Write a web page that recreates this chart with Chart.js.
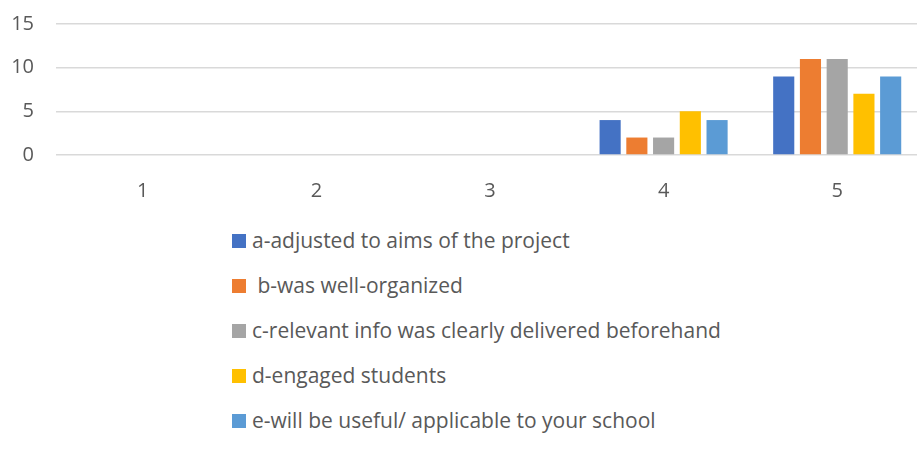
<!DOCTYPE html>
<html><head><meta charset="utf-8">
<script src="https://cdn.jsdelivr.net/npm/chart.js@4/dist/chart.umd.min.js"></script>
<style>
html,body{margin:0;padding:0;background:#fff;width:917px;height:450px;overflow:hidden;position:relative;}
#wrap{position:absolute;left:0;top:-10px;width:924px;height:215px;}
#legend{position:absolute;left:232px;top:225px;font-family:"Open Sans",sans-serif;font-size:21px;color:#595959;}
.item{height:45px;display:flex;align-items:flex-start;}
.sw{width:14px;height:14px;margin-top:9px;margin-right:6px;flex:none;}
.lab{line-height:30px;white-space:pre;}
</style></head>
<body>
<div id="wrap"><canvas id="c"></canvas></div>
<div id="legend"></div>
<script>
const categories = ["1","2","3","4","5"];
const seriesNames = ["a-adjusted to aims of the project"," b-was well-organized","c-relevant info was clearly delivered beforehand","d-engaged students","e-will be useful/ applicable to your school"];
const seriesA = [0,0,0,4,9];
const seriesB = [0,0,0,2,11];
const seriesC = [0,0,0,2,11];
const seriesD = [0,0,0,5,7];
const seriesE = [0,0,0,4,9];
const yTicks = [0,5,10,15];
const colors = ["#4472C4","#ED7D31","#A5A5A5","#FFC000","#5B9BD5"];
const allSeries = [seriesA,seriesB,seriesC,seriesD,seriesE];

const datasets = allSeries.map((d,i)=>({label:seriesNames[i],data:d,backgroundColor:colors[i],borderWidth:0,barPercentage:0.79,categoryPercentage:0.77}));

new Chart(document.getElementById('c'),{
  type:'bar',
  data:{labels:categories,datasets},
  options:{
    responsive:true,maintainAspectRatio:false,animation:false,
    layout:{padding:{top:3,right:0,bottom:0,left:0}},
    plugins:{legend:{display:false},tooltip:{enabled:false}},
    scales:{
      x:{grid:{display:false},border:{display:false},
         ticks:{color:'#595959',font:{family:"'Open Sans'",size:20},padding:16},
         afterFit:s=>{s.height=50;}},
      y:{min:0,max:15,afterBuildTicks:s=>{s.ticks=yTicks.map(v=>({value:v}));},
         grid:{color:'#d9d9d9',lineWidth:1.5,drawTicks:false},border:{display:false},
         ticks:{color:'#595959',font:{family:"'Open Sans'",size:20},padding:22},
         afterFit:s=>{s.width=56;}}
    }
  }
});
const lg=document.getElementById('legend');
seriesNames.forEach((n,i)=>{
  const it=document.createElement('div');it.className='item';
  const sw=document.createElement('div');sw.className='sw';sw.style.background=colors[i];
  const lb=document.createElement('div');lb.className='lab';lb.textContent=n;
  it.appendChild(sw);it.appendChild(lb);lg.appendChild(it);
});
</script>
</body></html>
